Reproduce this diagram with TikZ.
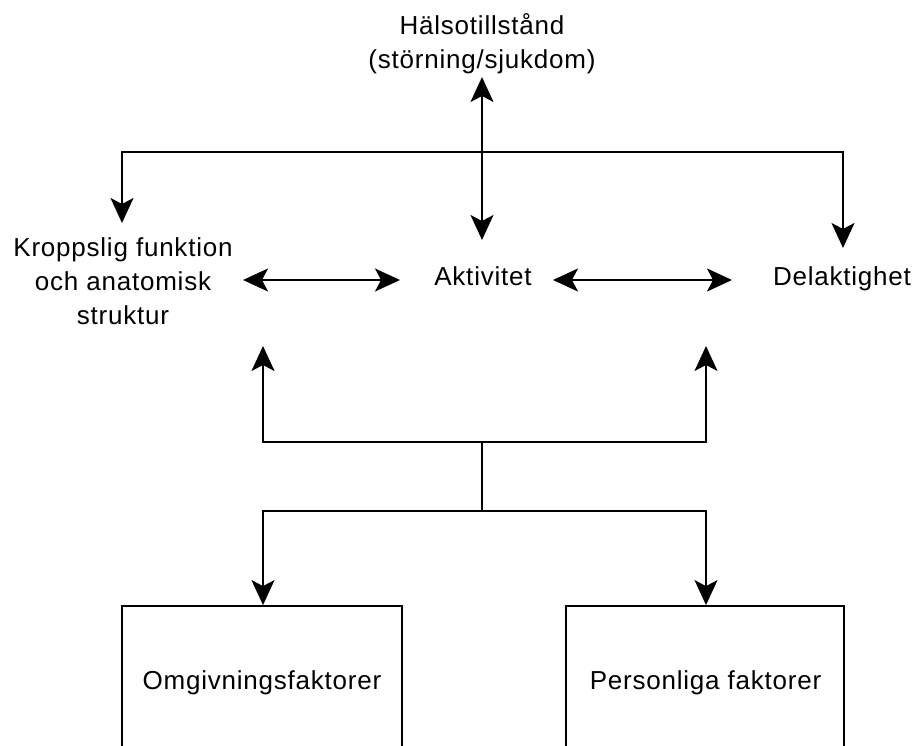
\documentclass[tikz,border=0pt]{standalone}
\usepackage{fontspec}
\setmainfont{Liberation Sans}[LetterSpace=3]
\usetikzlibrary{arrows.meta}
\begin{document}
\begin{tikzpicture}[x=1pt,y=-1pt,
  lbl/.style={font=\fontsize{26}{34}\selectfont, align=center, inner sep=0pt},
  conn/.style={line width=1.8pt, draw=black},
  tip/.style={-{Stealth[length=25pt,width=23pt,inset=6pt]}},
  tips/.style={{Stealth[length=25pt,width=23pt,inset=6pt]}-{Stealth[length=25pt,width=23pt,inset=6pt]}},
  factor/.style={draw, line width=1.8pt, minimum height=160pt, inner sep=0pt}]
\useasboundingbox (0,0) rectangle (916,746);
\clip (0,0) rectangle (916,746);
% text nodes
\node[lbl] (halsa) at (482,44) {Hälsotillstånd\\(störning/sjukdom)};
\node[lbl] (kropp) at (123,281) {Kroppslig funktion\\och anatomisk\\struktur};
\node[lbl, anchor=base] (akt) at (483,286) {Aktivitet};
\node[lbl, anchor=base] (del) at (842,286) {Delaktighet};
\node[factor, minimum width=280pt] (omg) at (262,686) {};
\node[factor, minimum width=278pt] (pers) at (705,686) {};
\node[lbl, anchor=base] (omgt) at (262,689) {Omgivningsfaktorer};
\node[lbl, anchor=base] (perst) at (705.5,689) {Personliga faktorer};
% coordinates
\coordinate (htop) at (482,77);
\coordinate (hbot) at (482,240);
\coordinate (hl) at (122,152);
\coordinate (hr) at (843,152);
\coordinate (kd) at (122,223);
\coordinate (dd) at (843,248);
\coordinate (ka) at (243,280);
\coordinate (ak1) at (400,280);
\coordinate (ak2) at (553,280);
\coordinate (da) at (732,280);
\coordinate (ul) at (263,346);
\coordinate (ur) at (706,346);
\coordinate (jl) at (263,442);
\coordinate (jr) at (706,442);
\coordinate (jc1) at (482,442);
\coordinate (jc2) at (482,511);
\coordinate (bl) at (263,511);
\coordinate (br) at (706,511);
% connectors
\draw[conn, tips] (htop) -- (hbot);
\draw[conn, tip] (482,152) -- (hl) -- (kd);
\draw[conn, tip] (482,152) -- (hr) -- (dd);
\draw[conn, tips] (ka) -- (ak1);
\draw[conn, tips] (ak2) -- (da);
\draw[conn, tip] (jc1) -- (jl) -- (ul);
\draw[conn, tip] (jc1) -- (jr) -- (ur);
\draw[conn] (jc1) -- (jc2);
\draw[conn, tip] (jc2) -- (bl) -- (omg.north -| bl);
\draw[conn, tip] (jc2) -- (br) -- (pers.north -| br);
\end{tikzpicture}
\end{document}
